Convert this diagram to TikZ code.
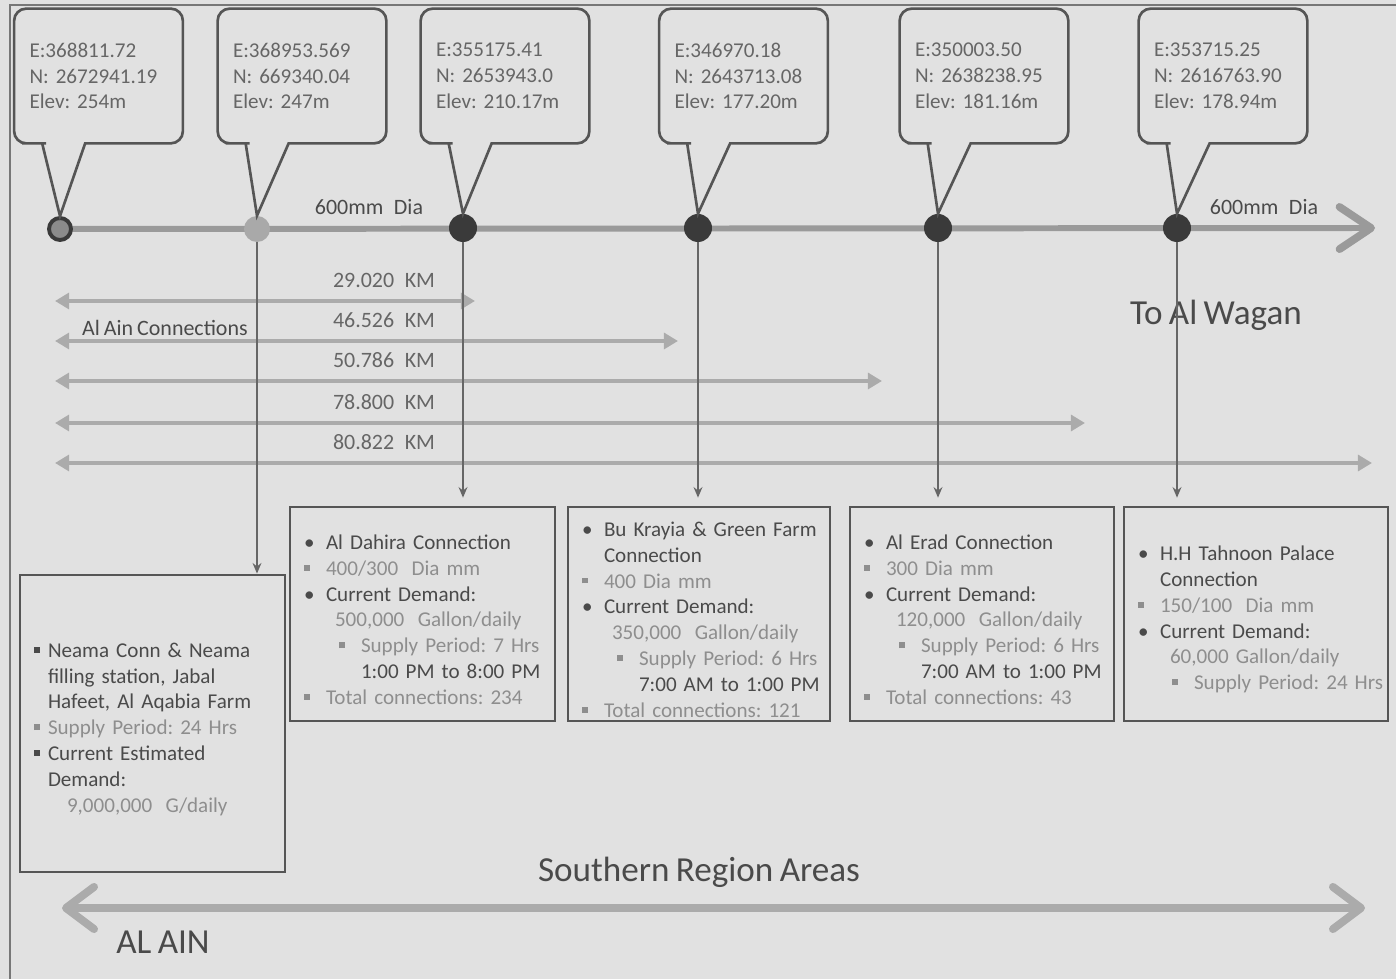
\documentclass[tikz,border=0pt]{standalone}
\usepackage{fontspec}
\setmainfont{Carlito}[WordSpace=0.8]
\usetikzlibrary{arrows.meta,calc}
\frenchspacing

\definecolor{bgpaper}{HTML}{E1E1E1}
\definecolor{inkdark}{HTML}{4A4A4A}
\definecolor{inklight}{HTML}{8E8E8E}
\definecolor{inkmid}{HTML}{666666}
\definecolor{linegray}{HTML}{555555}
\definecolor{pipegray}{HTML}{9A9A9A}
\definecolor{kmgray}{HTML}{ABABAB}
\definecolor{dotdark}{HTML}{3A3A3A}

\pgfdeclarelayer{back}
\pgfsetlayers{back,main}

\newlength\px \setlength\px{0.02cm}
\newlength\bulw \setlength\bulw{22\px}
\newcommand{\dotb}{\textbullet}
\newcommand{\sqb}{\raisebox{.22em}{\rule{.28em}{.28em}}}
% one line of a box: indent, bullet, colour, text
\newcommand{\bline}[4]{\par\noindent\hspace*{#1\px}\makebox[\bulw][l]{\textcolor{#3}{#2}}\mbox{\textcolor{#3}{#4}}}

\begin{document}
\begin{tikzpicture}[x=0.02cm, y=-0.02cm,
    tagbox/.style={minimum width=168\px, minimum height=134\px, text width=138\px, inner xsep=15\px, inner ysep=0pt, align=left, text=inkmid, font=\fontsize{12}{14.7}\selectfont},
    tagline/.style={draw=linegray, line width=1.5pt},
    infobox/.style={draw=linegray, line width=1.6pt, inner xsep=14\px, inner ysep=0pt, font=\fontsize{12}{14.7}\selectfont},
    pipe/.style={draw=pipegray, line width=3.4pt, -{Straight Barb[length=18pt,width=24pt,line width=4.4pt,round]}},
    drop/.style={draw=inkmid, line width=1.1pt, -{Stealth[length=6pt,width=5pt]}},
    km/.style={draw=kmgray, line width=2.3pt, {Triangle[length=8pt,width=9pt]}-{Triangle[length=8pt,width=9pt]}},
    region/.style={draw=kmgray, line width=4.5pt, {Straight Barb[length=16pt,width=24pt,line width=4.5pt,round]}-{Straight Barb[length=16pt,width=24pt,line width=4.5pt,round]}},
    smalllabel/.style={font=\fontsize{12.5}{15}\selectfont, text=inkdark},
    biglabel/.style={font=\fontsize{20}{24}\selectfont, text=inkdark}]
  \useasboundingbox (0,0) rectangle (1396,979);

  % frame
  \draw[linegray!80, line width=0.9pt] (10,979) -- (10,5) -- (1396,5);

  % junctions on the main line
  \node [circle, fill=pipegray!90!black, draw=dotdark, line width=2.2pt, minimum size=22\px, inner sep=0pt] (j1) at (60,229) {};
  \node [circle, fill=pipegray!85, minimum size=26\px, inner sep=0pt] (j2) at (257,229) {};
  \node [circle, fill=dotdark, minimum size=28\px, inner sep=0pt] (j3) at (463,228) {};
  \node [circle, fill=dotdark, minimum size=28\px, inner sep=0pt] (j4) at (698,228) {};
  \node [circle, fill=dotdark, minimum size=28\px, inner sep=0pt] (j5) at (938,228) {};
  \node [circle, fill=dotdark, minimum size=28\px, inner sep=0pt] (j6) at (1177,228) {};
  \coordinate (pipeend) at (1375,228);

  \begin{pgfonlayer}{back}
    \fill[bgpaper] (0,0) rectangle (1396,979);
    \draw[pipe] (j1.center) -- (pipeend);
  \end{pgfonlayer}

  \node [smalllabel] (dia1) at (369,207) {600mm\hspace{.3em} Dia};
  \node [smalllabel] (dia2) at (1264,207) {600mm\hspace{.3em} Dia};

  % coordinate callouts
  \foreach \i/\cx/\e/\n/\h in {1/98.5/368811.72/2672941.19/254m,
                                2/302/368953.569/669340.04/247m,
                                3/505/355175.41/2653943.0/210.17m,
                                4/743.5/346970.18/2643713.08/177.20m,
                                5/984/350003.50/2638238.95/181.16m,
                                6/1223/353715.25/2616763.90/178.94m}
  {
    \node [tagbox] (c\i) at (\cx,76) {E:\e\\N: \n\\Elev: \h};
    \draw[tagline] ($(c\i.south west)+(71,0)$) -- ($(c\i.south east)+(-20,0)$) [rounded corners=12\px]
      -- (c\i.south east) -- (c\i.north east) -- (c\i.north west) -- (c\i.south west)
      -- ($(c\i.south west)+(20,0)$) [sharp corners] -- ($(c\i.south west)+(28,0)$) -- (j\i.north) -- cycle;
  }

  % distances from Al Ain
  \foreach \i/\y/\xe/\d in {1/301/475/29.020, 2/341/678/46.526, 3/381/882/50.786, 4/423/1085/78.800, 5/463/1372/80.822}
  {
    \coordinate (kw\i) at (55,\y);
    \coordinate (ke\i) at (\xe,\y);
    \draw[km] (kw\i) -- (ke\i);
    \node [smalllabel, text=inkmid] (kl\i) at (384,\y-21) {\d\hspace{.3em} KM};
  }
  \node [smalllabel] (alain) at (165,328) {Al Ain Connections};
  \node [biglabel] (wagan) at (1216,315) {To Al Wagan};

  % connection boxes
  \node [infobox, minimum height=297\px, text width=237\px] (neama) at (152.5,723.5) {\setlength{\bulw}{14\px}%
    \bline{0}{\sqb}{inkdark}{Neama Conn \& Neama}
    \bline{0}{}{inkdark}{filling station, Jabal}
    \bline{0}{}{inkdark}{Hafeet, Al Aqabia Farm}
    \bline{0}{\sqb}{inklight}{Supply Period: 24 Hrs}
    \bline{0}{\sqb}{inkdark}{Current Estimated}
    \bline{0}{}{inkdark}{Demand:}
    \bline{19}{}{inklight}{9,000,000\hspace{.3em} G/daily}};

  \node [infobox, minimum height=214\px, text width=237\px] (dahira) at (422.5,614) {%
    \bline{0}{\dotb}{inkdark}{Al Dahira Connection}
    \bline{0}{\sqb}{inklight}{400/300\hspace{.3em} Dia mm}
    \bline{0}{\dotb}{inkdark}{Current Demand:}
    \bline{9}{}{inklight}{500,000\hspace{.3em} Gallon/daily}
    \bline{35}{\sqb}{inklight}{Supply Period: 7 Hrs}
    \bline{35}{}{inkdark}{1:00 PM to 8:00 PM}
    \bline{0}{\sqb}{inklight}{Total connections: 234}};

  \node [infobox, minimum height=214\px, text width=234\px] (krayia) at (699,614) {%
    \bline{0}{\dotb}{inkdark}{Bu Krayia \& Green Farm}
    \bline{0}{}{inkdark}{Connection}
    \bline{0}{\sqb}{inklight}{400 Dia mm}
    \bline{0}{\dotb}{inkdark}{Current Demand:}
    \bline{8}{}{inklight}{350,000\hspace{.3em} Gallon/daily}
    \bline{35}{\sqb}{inklight}{Supply Period: 6 Hrs}
    \bline{35}{}{inkdark}{7:00 AM to 1:00 PM}
    \bline{0}{\sqb}{inklight}{Total connections: 121}};

  \node [infobox, minimum height=214\px, text width=236\px] (erad) at (982,614) {%
    \bline{0}{\dotb}{inkdark}{Al Erad Connection}
    \bline{0}{\sqb}{inklight}{300 Dia mm}
    \bline{0}{\dotb}{inkdark}{Current Demand:}
    \bline{10}{}{inklight}{120,000\hspace{.3em} Gallon/daily}
    \bline{35}{\sqb}{inklight}{Supply Period: 6 Hrs}
    \bline{35}{}{inkdark}{7:00 AM to 1:00 PM}
    \bline{0}{\sqb}{inklight}{Total connections: 43}};

  \node [infobox, minimum height=214\px, text width=236\px] (tahnoon) at (1256,614) {%
    \bline{0}{\dotb}{inkdark}{H.H Tahnoon Palace}
    \bline{0}{}{inkdark}{Connection}
    \bline{0}{\sqb}{inklight}{150/100\hspace{.3em} Dia mm}
    \bline{0}{\dotb}{inkdark}{Current Demand:}
    \bline{10}{}{inklight}{60,000 Gallon/daily}
    \bline{34}{\sqb}{inklight}{Supply Period: 24 Hrs}};

  % branches down to the connections
  \draw[drop] (j2) -- (j2 |- neama.north);
  \draw[drop, shorten >=4.5pt] (j3) -- (j3 |- dahira.north);
  \draw[drop, shorten >=4.5pt] (j4) -- (j4 |- krayia.north);
  \draw[drop, shorten >=4.5pt] (j5) -- (j5 |- erad.north);
  \draw[drop, shorten >=4.5pt] (j6) -- (j6 |- tahnoon.north);

  % southern region
  \node [biglabel] (south) at (699,872) {Southern Region Areas};
  \coordinate (regw) at (62,908);
  \coordinate (rege) at (1365,908);
  \draw[region] (regw) -- (rege);
  \node [biglabel] (ain) at (163,942) {AL AIN};
\end{tikzpicture}
\end{document}
